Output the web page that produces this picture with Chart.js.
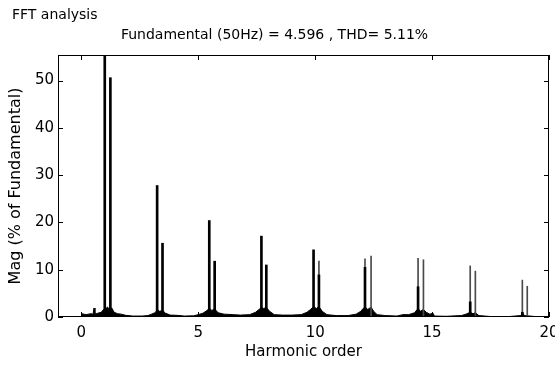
<!DOCTYPE html>
<html>
<head>
<meta charset="utf-8">
<title>FFT analysis</title>
<script src="https://cdn.jsdelivr.net/npm/chart.js@4.4.1/dist/chart.umd.min.js"></script>
<style>
    html, body { margin: 0; padding: 0; background: #fff; }
    canvas { display: block; }
</style>
</head>
<body>
<canvas id="fft-chart" width="555" height="365"></canvas>
<script>
// Harmonic spikes (% of fundamental)
const strongOrder = [1.0, 1.24, 3.24, 3.47, 5.47, 5.7, 7.7, 7.91, 9.93];
const strongMag = [100, 50.6, 27.8, 15.6, 20.4, 11.8, 17.1, 11.0, 14.2];

// thinner grey spikes at the higher orders
const thinOrder = [10.16, 12.13, 12.39, 14.4, 14.63, 16.63, 16.85, 18.86, 19.07];
const thinMag = [11.8, 12.3, 12.9, 12.4, 12.1, 10.8, 9.7, 7.8, 6.5];

// darker lower part of some of the thin spikes
const coreOrder = [10.16, 12.13, 14.4, 16.63, 18.86];
const coreMag = [8.9, 10.5, 6.4, 3.2, 1.0];

// noise floor around the spikes
const floorOrder = [0, 0.01, 0.2, 0.4, 0.5, 0.54, 0.58, 0.7, 0.85, 0.95, 1.05, 1.12, 1.2, 1.3, 1.4, 1.55, 1.7, 1.9,
    2.2, 2.6, 2.85, 3.0, 3.15, 3.25, 3.35, 3.47, 3.6, 3.8, 4.1, 4.4, 4.8, 5.0, 5.2, 5.35, 5.47, 5.58, 5.7, 5.85,
    6.1, 6.5, 6.8, 7.2, 7.45, 7.6, 7.7, 7.8, 7.91, 8.05, 8.25, 8.6, 9.0, 9.4, 9.65, 9.8, 9.93, 10.05, 10.16, 10.3,
    10.5, 10.9, 11.4, 11.75, 11.95, 12.05, 12.13, 12.25, 12.39, 12.5, 12.65, 13.0, 13.5, 13.75, 14.0, 14.25, 14.4,
    14.5, 14.63, 14.75, 14.9, 15.04, 15.1, 15.6, 16.25, 16.45, 16.63, 16.75, 16.85, 17.0, 17.5, 18.3, 18.8, 18.86,
    18.95, 19.4, 20];
const floorMag = [0, 0.7, 0.5, 0.7, 0.6, 1.9, 0.6, 0.8, 1.0, 1.6, 1.8, 2.1, 1.6, 1.9, 1.0, 0.7, 0.6, 0.35,
    0.2, 0.2, 0.3, 0.6, 0.9, 1.5, 1.2, 1.4, 0.8, 0.4, 0.35, 0.2, 0.25, 0.5, 0.8, 1.3, 1.8, 1.4, 1.7, 0.9,
    0.6, 0.5, 0.4, 0.5, 1.0, 1.6, 2.0, 1.8, 2.0, 1.2, 0.5, 0.4, 0.4, 0.5, 1.0, 1.6, 2.2, 1.8, 2.2, 1.2,
    0.5, 0.3, 0.3, 0.6, 1.2, 1.8, 2.1, 1.6, 2.1, 1.2, 0.5, 0.3, 0.2, 0.5, 0.5, 0.9, 1.8,
    1.2, 1.6, 1.0, 0.6, 0.8, 0.2, 0.15, 0.3, 0.6, 1.0, 0.7, 0.9, 0.3, 0.1, 0.1, 0.3, 0.9,
    0.3, 0.1, 0.1];

const xTickStep = 5;
const yTickStep = 10;

const figureTitle = 'FFT analysis';
const plotTitle = 'Fundamental (50Hz) = 4.596 , THD= 5.11%';

function toPoints(xs, ys) {
    return xs.map((x, i) => ({ x: x, y: ys[i] }));
}

// MATLAB style box with inward ticks, plus the figure label
const matlabAxes = {
    id: 'matlabAxes',
    afterDraw(chart) {
        const { ctx, chartArea: a, scales: { x, y } } = chart;
        const len = 5;
        ctx.save();
        ctx.strokeStyle = '#000';
        ctx.lineWidth = 1;
        ctx.strokeRect(a.left + 0.5, a.top + 0.5, a.right - a.left - 1, a.bottom - a.top - 1);
        ctx.beginPath();
        x.ticks.forEach(t => {
            const px = Math.round(x.getPixelForValue(t.value)) + 0.5;
            ctx.moveTo(px, a.bottom); ctx.lineTo(px, a.bottom - len);
            ctx.moveTo(px, a.top); ctx.lineTo(px, a.top + len);
        });
        y.ticks.forEach(t => {
            const py = Math.round(y.getPixelForValue(t.value)) + 0.5;
            ctx.moveTo(a.left, py); ctx.lineTo(a.left + len, py);
            ctx.moveTo(a.right, py); ctx.lineTo(a.right - len, py);
        });
        ctx.stroke();
        ctx.fillStyle = '#000';
        ctx.font = '14px "DejaVu Sans"';
        ctx.textBaseline = 'middle';
        ctx.textAlign = 'left';
        ctx.fillText(figureTitle, 12, 15);
        ctx.restore();
    }
};

Chart.defaults.font.family = '"DejaVu Sans", sans-serif';
Chart.defaults.color = '#000';

const ctx = document.getElementById('fft-chart').getContext('2d');
const chart = new Chart(ctx, {
    type: 'bar',
    data: {
        datasets: [
            {
                label: 'Noise floor',
                type: 'line',
                data: toPoints(floorOrder, floorMag),
                borderColor: '#000',
                backgroundColor: '#000',
                borderWidth: 1,
                fill: 'origin',
                pointRadius: 0,
                tension: 0,
                clip: 0,
                order: 3
            },
            {
                label: 'Thin harmonics',
                data: toPoints(thinOrder, thinMag),
                backgroundColor: '#4a4a4a',
                barThickness: 1,
                maxBarThickness: 1,
                grouped: false,
                clip: 0,
                order: 2
            },
            {
                label: 'Harmonics',
                data: toPoints(strongOrder, strongMag),
                backgroundColor: '#000',
                barThickness: 2,
                maxBarThickness: 2,
                grouped: false,
                clip: 0,
                order: 1
            },
            {
                label: 'Harmonic cores',
                data: toPoints(coreOrder, coreMag),
                backgroundColor: '#000',
                barThickness: 2,
                maxBarThickness: 2,
                grouped: false,
                clip: 0,
                order: 0
            }
        ]
    },
    options: {
        responsive: false,
        animation: false,
        layout: { padding: { left: 0, right: 6, top: 0, bottom: 0 } },
        plugins: {
            legend: { display: false },
            tooltip: { enabled: false },
            title: {
                display: true,
                text: plotTitle,
                font: { size: 14, weight: 'normal' },
                color: '#000',
                padding: { top: 26.6, bottom: 11.6 }
            }
        },
        scales: {
            x: {
                type: 'linear',
                min: -1,
                max: 20,
                offset: false,
                grid: { display: false, drawTicks: false, offset: false },
                border: { display: false },
                ticks: {
                    stepSize: xTickStep,
                    includeBounds: false,
                    font: { size: 15 },
                    color: '#000',
                    padding: 7,
                    maxRotation: 0,
                    autoSkip: false
                },
                title: {
                    display: true,
                    text: 'Harmonic order',
                    font: { size: 15 },
                    color: '#000',
                    padding: { top: 1, bottom: 4 }
                },
                afterFit(scale) {
                    scale.paddingLeft = 0;
                    scale.paddingRight = 0;
                    scale.height = 48;
                }
            },
            y: {
                min: 0,
                max: 55.4,
                grid: { display: false, drawTicks: false },
                border: { display: false },
                ticks: {
                    stepSize: yTickStep,
                    includeBounds: false,
                    font: { size: 15 },
                    color: '#000',
                    padding: 4
                },
                title: {
                    display: true,
                    text: 'Mag (% of Fundamental)',
                    font: { size: 16 },
                    color: '#000',
                    padding: { top: 6, bottom: 0 }
                },
                afterFit(scale) {
                    scale.width = 58;
                }
            }
        }
    },
    plugins: [matlabAxes]
});
</script>
</body>
</html>
